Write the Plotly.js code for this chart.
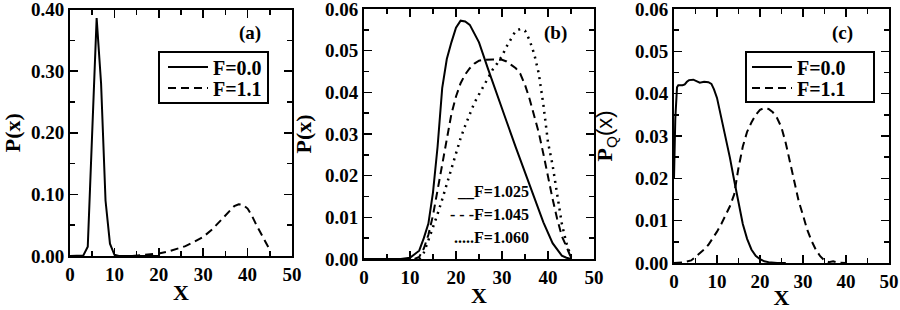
<!DOCTYPE html>
<html>
<head>
<meta charset="utf-8">
<script src="https://cdn.plot.ly/plotly-3.0.1.min.js"></script>
<style>html,body{margin:0;padding:0;background:#fff}#chart{width:900px;height:310px}</style>
</head>
<body>
<div id="chart"></div>
<script>
// Panel (a)
const xa0 = [0,1,2,3,4,5,6,7,8,9,10,11,12,15,20];
const ya0 = [0,0,0,0.001,0.015,0.2,0.386,0.28,0.09,0.02,0.002,0,0,0,0];
const xa1 = [14,16,18,20,22,24,26,28,30,32,34,36,37,38,39,40,41,42,43,44,45];
const ya1 = [0,0.001,0.002,0.004,0.007,0.011,0.016,0.023,0.031,0.043,0.058,0.074,0.081,0.084,0.083,0.077,0.065,0.050,0.036,0.024,0.010];

// Panel (b)
const xb1 = [0,5,8,10,12,13,14,15,16,17,18,19,20,21,22,23,25,27,29,31,33,35,37,39,41,43,44,45];
const yb1 = [0,0,0,0.0003,0.002,0.005,0.0085,0.016,0.027,0.041,0.048,0.052,0.0555,0.0572,0.057,0.0562,0.052,0.0455,0.039,0.033,0.0268,0.021,0.0148,0.0088,0.0038,0.0008,0.0003,0];
const xb2 = [11,12,13,14,15,16,17,18,19,20,21,22,23,24,25,26,28,30,31,32,33,34,35,36,37,38,39,40,41,42,43,44,45];
const yb2 = [0,0.0005,0.0025,0.0058,0.0105,0.0165,0.023,0.0293,0.0348,0.039,0.0422,0.0443,0.0458,0.0469,0.0476,0.0478,0.0479,0.0478,0.0474,0.0466,0.0458,0.0444,0.0418,0.0384,0.0345,0.0303,0.0252,0.0196,0.0144,0.0096,0.0055,0.003,0.0003];
const xb3 = [12,13,14,15,16,17,18,19,20,21,22,23,24,25,26,27,28,29,30,31,32,33,34,35,36,37,38,39,40,41,42,43,44,45];
const yb3 = [0,0.0015,0.0045,0.0075,0.0108,0.0143,0.018,0.0217,0.0253,0.029,0.032,0.035,0.0375,0.0395,0.0415,0.0435,0.0455,0.047,0.0487,0.051,0.053,0.0548,0.0552,0.0548,0.0525,0.0492,0.0445,0.037,0.028,0.0225,0.0155,0.0085,0.0038,0.0005];

// Panel (c)
const xc0 = [0,0.3,0.7,1,2,2.5,3,3.5,4.5,5.5,6,7,8,8.7,9.3,10,11,12,13,14,15,16,17,18,19,20,21,22,24,26];
const yc0 = [0.02,0.034,0.0415,0.042,0.042,0.0422,0.0428,0.0432,0.0433,0.0428,0.0426,0.0428,0.0427,0.0423,0.041,0.039,0.0345,0.0298,0.0249,0.0195,0.0139,0.0092,0.0057,0.0032,0.0017,0.0009,0.0004,0.0002,0,0];
const xc1 = [0,2,4,5,6,7,8,9,10,11,12,13,14,15,16,17,18,19,20,21,22,23,24,25,26,27,28,29,30,31,32,33,34,35,36,37,38,40];
const yc1 = [0,0.0001,0.0006,0.0014,0.0023,0.0032,0.0043,0.0058,0.0074,0.0092,0.0112,0.0134,0.0162,0.0225,0.0275,0.031,0.0332,0.035,0.0362,0.0366,0.0364,0.0356,0.0342,0.032,0.0283,0.0238,0.0193,0.0146,0.0113,0.0078,0.0052,0.0031,0.0016,0.0006,0.0002,0.0004,0.0001,0];

const namesAC = ["F=0.0", "F=1.1"];
const bLabels = ["__F=1.025", "- - -F=1.045", ".....F=1.060"];
const panelLabels = ["(a)", "(b)", "(c)"];

const SERIF = "Liberation Serif";
const DASH = "8px,5px";
const DOT = "2px,5px";

const traces = [
  {x: xa0, y: ya0, xaxis: "x", yaxis: "y", name: namesAC[0], legend: "legend", mode: "lines", line: {color: "#000", width: 2}},
  {x: xa1, y: ya1, xaxis: "x", yaxis: "y", name: namesAC[1], legend: "legend3", mode: "lines", line: {color: "#000", width: 2, dash: DASH}},
  {x: xb1, y: yb1, xaxis: "x2", yaxis: "y2", name: "F=1.025", showlegend: false, mode: "lines", line: {color: "#000", width: 2}},
  {x: xb2, y: yb2, xaxis: "x2", yaxis: "y2", name: "F=1.045", showlegend: false, mode: "lines", line: {color: "#000", width: 2, dash: DASH}},
  {x: xb3, y: yb3, xaxis: "x2", yaxis: "y2", name: "F=1.060", showlegend: false, mode: "lines", line: {color: "#000", width: 2.5, dash: DOT}},
  {x: xc0, y: yc0, xaxis: "x3", yaxis: "y3", name: namesAC[0], legend: "legend2", mode: "lines", line: {color: "#000", width: 2}},
  {x: xc1, y: yc1, xaxis: "x3", yaxis: "y3", name: namesAC[1], legend: "legend4", mode: "lines", line: {color: "#000", width: 2, dash: DASH}}
];

const tickfont = {family: SERIF, size: 19, weight: "bold", color: "#000"};
const titlefont = {family: SERIF, size: 22, weight: "bold", color: "#000"};

function xax(domain, anchor) {
  return {
    domain: domain, anchor: anchor, range: [0, 50], dtick: 10, tick0: 0,
    ticks: "inside", ticklen: 8, tickwidth: 1.5, tickcolor: "#000",
    minor: {dtick: 5, ticks: "inside", ticklen: 5, tickwidth: 1.5, tickcolor: "#000", showgrid: false},
    showline: true, linewidth: 2, linecolor: "#000", mirror: "ticks",
    showgrid: false, zeroline: false, tickfont: tickfont, ticklabeloverflow: "allow",
    title: {text: "X", font: titlefont, standoff: 1}, automargin: false, fixedrange: true
  };
}
function yax(domain, anchor, max, dt, ytitle, standoff) {
  return {
    domain: domain, anchor: anchor, range: [0, max * 1.00002], dtick: dt, tick0: 0, tickformat: ".2f",
    ticks: "inside", ticklen: 8, tickwidth: 1.5, tickcolor: "#000",
    minor: {dtick: dt / 2, ticks: "inside", ticklen: 5, tickwidth: 1.5, tickcolor: "#000", showgrid: false},
    showline: true, linewidth: 2, linecolor: "#000", mirror: "ticks",
    showgrid: false, zeroline: false, tickfont: tickfont, ticklabeloverflow: "allow",
    title: {text: ytitle, font: titlefont, standoff: standoff}, automargin: false, fixedrange: true
  };
}

const legendFont = {family: SERIF, size: 20, weight: "bold", color: "#000"};
function leg(xpx, ypx) {
  return {x: xpx/900, y: (310-ypx)/310, xanchor: "left", yanchor: "middle", borderwidth: 0,
          bgcolor: "rgba(0,0,0,0)", font: legendFont, tracegroupgap: 0, itemwidth: 40};
}
const annFont = {family: SERIF, size: 19, weight: "bold", color: "#000"};
const bFont = {family: SERIF, size: 16, weight: "bold", color: "#000"};

const layout = {
  width: 900, height: 310,
  margin: {l: 0, r: 0, t: 0, b: 0},
  paper_bgcolor: "#fff", plot_bgcolor: "#fff",
  xaxis: xax([70/900, 292/900], "y"),
  yaxis: yax([54/310, 300.5/310], "x", 0.4, 0.1, "P(x)", 10),
  xaxis2: xax([364/900, 594/900], "y2"),
  yaxis2: yax([51/310, 301/310], "x2", 0.06, 0.01, "P(x)", 7),
  xaxis3: xax([674/900, 889/900], "y3"),
  yaxis3: yax([47/310, 301/310], "x3", 0.06, 0.01,
    'P<sub><span style="font-family:Liberation Sans;font-weight:normal">Q</span></sub><span style="font-family:Liberation Sans;font-weight:normal">(x)</span>', 16),
  legend: leg(163, 67),
  legend3: leg(163, 88),
  legend2: leg(747, 67),
  legend4: leg(747, 88),
  showlegend: true,
  shapes: [
    {type: "rect", xref: "paper", yref: "paper", x0: 159/900, x1: 268/900, y0: (310-103)/310, y1: (310-52)/310,
     line: {color: "#000", width: 2}, fillcolor: "#fff", layer: "above"},
    {type: "rect", xref: "paper", yref: "paper", x0: 746/900, x1: 874/900, y0: (310-102)/310, y1: (310-52)/310,
     line: {color: "#000", width: 2}, fillcolor: "#fff", layer: "above"}
  ],
  annotations: [
    {xref: "paper", yref: "paper", x: 250/900, y: (310-33)/310, text: panelLabels[0], showarrow: false, font: annFont, xanchor: "center", yanchor: "middle"},
    {xref: "paper", yref: "paper", x: 555/900, y: (310-33)/310, text: panelLabels[1], showarrow: false, font: annFont, xanchor: "center", yanchor: "middle"},
    {xref: "paper", yref: "paper", x: 842/900, y: (310-33)/310, text: panelLabels[2], showarrow: false, font: annFont, xanchor: "center", yanchor: "middle"},
    {xref: "paper", yref: "paper", x: 531/900, y: (310-191)/310, text: bLabels[0], showarrow: false, font: bFont, xanchor: "right", yanchor: "middle"},
    {xref: "paper", yref: "paper", x: 531/900, y: (310-214)/310, text: bLabels[1], showarrow: false, font: bFont, xanchor: "right", yanchor: "middle"},
    {xref: "paper", yref: "paper", x: 531/900, y: (310-237)/310, text: bLabels[2], showarrow: false, font: bFont, xanchor: "right", yanchor: "middle"}
  ]
};

Plotly.newPlot("chart", traces, layout, {staticPlot: true, displayModeBar: false});
</script>
</body>
</html>
